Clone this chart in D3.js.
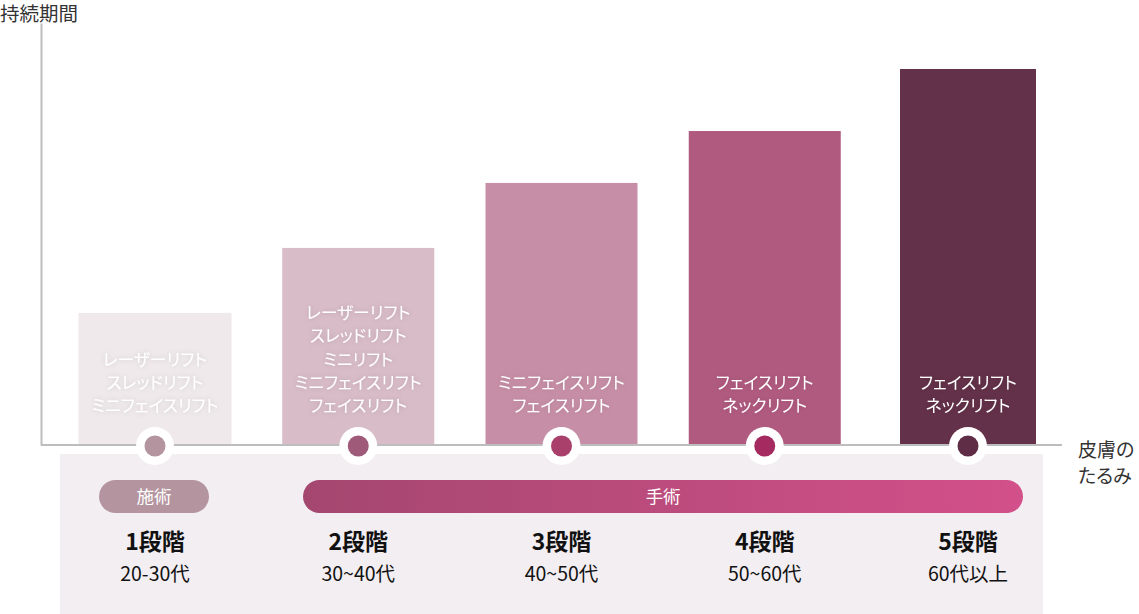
<!DOCTYPE html>
<html>
<head>
<meta charset="utf-8">
<script src="https://cdn.jsdelivr.net/npm/d3@7"></script>
<style>
  body { margin: 0; background: #fff; }
  svg { display: block; font-family: "Noto Sans CJK JP", "Noto Sans", sans-serif; }
  .palt { font-feature-settings: "palt"; }
</style>
</head>
<body>
<div id="vis-holder"></div>
<script>
// Set dimensions
const width = 1139;
const height = 614;
const margin = { top: 23, left: 41, right: 77, bottom: 169 };

// chart data
const stages = ["1段階", "2段階", "3段階", "4段階", "5段階"];
const ages = ["20-30代", "30~40代", "40~50代", "50~60代", "60代以上"];
const duration = [31.3, 46.7, 62.1, 74.4, 89.1];
const treatments = [
  ["レーザーリフト", "スレッドリフト", "ミニフェイスリフト"],
  ["レーザーリフト", "スレッドリフト", "ミニリフト", "ミニフェイスリフト", "フェイスリフト"],
  ["ミニフェイスリフト", "フェイスリフト"],
  ["フェイスリフト", "ネックリフト"],
  ["フェイスリフト", "ネックリフト"]
];
const barColors = ["#efe9ec", "#d8bcc8", "#c78fa7", "#b05a80", "#633149"];
const dotColors = ["#b4959f", "#9e5a78", "#a8406b", "#a42a5f", "#5f2d45"];
const groups = [
  { label: "施術", from: 0, to: 0 },
  { label: "手術", from: 1, to: 4 }
];

const svg = d3.select("#vis-holder")
  .append("svg")
  .attr("width", width)
  .attr("height", height);

const defs = svg.append("defs");
const glow = defs.append("filter").attr("id", "glow")
  .attr("x", "-20%").attr("y", "-50%").attr("width", "140%").attr("height", "200%");
glow.append("feGaussianBlur").attr("in", "SourceAlpha").attr("stdDeviation", 2.5).attr("result", "b");
glow.append("feFlood").attr("flood-color", "#000").attr("flood-opacity", 0.15);
glow.append("feComposite").attr("in2", "b").attr("operator", "in").attr("result", "s");
const fm = glow.append("feMerge");
fm.append("feMergeNode").attr("in", "s");
fm.append("feMergeNode").attr("in", "SourceGraphic");

const grad = defs.append("linearGradient").attr("id", "surgery");
grad.append("stop").attr("offset", "0%").attr("stop-color", "#a4476f");
grad.append("stop").attr("offset", "100%").attr("stop-color", "#d3508a");

// scales
const baseY = height - margin.bottom; // 445
const x = d3.scalePoint()
  .domain(stages)
  .range([155, 968]);
const y = d3.scaleLinear()
  .domain([0, 100])
  .range([baseY, margin.top]);
const barW = [153, 152, 152, 152, 136];

// bottom panel
svg.append("rect")
  .attr("x", 60).attr("y", 454)
  .attr("width", 983).attr("height", height - 454)
  .attr("fill", "#f3eef1");

// bars
svg.selectAll(".bar")
  .data(duration)
  .enter()
  .append("rect")
  .attr("class", "bar")
  .attr("x", (d, i) => x(stages[i]) - barW[i] / 2)
  .attr("y", d => y(d))
  .attr("width", (d, i) => barW[i])
  .attr("height", d => baseY - y(d))
  .attr("fill", (d, i) => barColors[i]);

// bar texts
treatments.forEach((lines, i) => {
  const t = svg.append("text")
    .attr("class", "palt")
    .attr("text-anchor", "middle")
    .attr("font-size", 16.8)
    .attr("fill", "#fff")
    .attr("filter", "url(#glow)");
  lines.forEach((l, j) => {
    t.append("tspan")
      .attr("x", x(stages[i]))
      .attr("y", 412 - (lines.length - 1 - j) * 23.2)
      .text(l);
  });
});

// axes
svg.append("g")
  .attr("transform", `translate(${margin.left},0)`)
  .call(d3.axisLeft(y).ticks(0).tickSize(0))
  .call(g => g.select(".domain").attr("stroke", "#bdbdbd").attr("stroke-width", 2));
svg.append("line")
  .attr("x1", margin.left).attr("x2", 1062)
  .attr("y1", baseY).attr("y2", baseY)
  .attr("stroke", "#bdbdbd").attr("stroke-width", 2);

svg.append("text")
  .attr("class", "palt")
  .attr("x", 0).attr("y", 21)
  .attr("font-size", 19.5).attr("fill", "#333")
  .text("持続期間");

svg.append("text")
  .attr("class", "palt")
  .attr("font-size", 19).attr("fill", "#333")
  .selectAll("tspan")
  .data(["皮膚の", "たるみ"])
  .enter().append("tspan")
  .attr("x", 1078)
  .attr("y", (d, i) => 457 + i * 26)
  .text(d => d);

// markers
svg.selectAll(".ring")
  .data(stages)
  .enter().append("circle")
  .attr("cx", d => x(d)).attr("cy", 446).attr("r", 19)
  .attr("fill", "#fff");
svg.selectAll(".dot")
  .data(stages)
  .enter().append("circle")
  .attr("cx", d => x(d)).attr("cy", 446).attr("r", 10.5)
  .attr("fill", (d, i) => dotColors[i]);

// pills
const pillX0 = [99, 303];
const pillX1 = [209, 1023];
const pillFill = ["#b4959f", "url(#surgery)"];
groups.forEach((g, i) => {
  svg.append("rect")
    .attr("x", pillX0[i]).attr("y", 480)
    .attr("width", pillX1[i] - pillX0[i]).attr("height", 33)
    .attr("rx", 16.5)
    .attr("fill", pillFill[i]);
  svg.append("text")
    .attr("x", i === 0 ? (pillX0[i] + pillX1[i]) / 2 : (x(stages[g.from]) + x(stages[g.to])) / 2)
    .attr("y", 503)
    .attr("text-anchor", "middle")
    .attr("font-size", 17.5).attr("fill", "#fff")
    .text(g.label);
});

// stage labels
svg.selectAll(".stage")
  .data(stages)
  .enter().append("text")
  .attr("x", d => x(d)).attr("y", 550)
  .attr("text-anchor", "middle")
  .attr("font-size", 23).attr("font-weight", "bold").attr("fill", "#111")
  .text(d => d);
svg.selectAll(".age")
  .data(ages)
  .enter().append("text")
  .attr("x", (d, i) => x(stages[i])).attr("y", 581)
  .attr("text-anchor", "middle")
  .attr("font-size", 19.5).attr("fill", "#111")
  .text(d => d);
</script>
</body>
</html>
